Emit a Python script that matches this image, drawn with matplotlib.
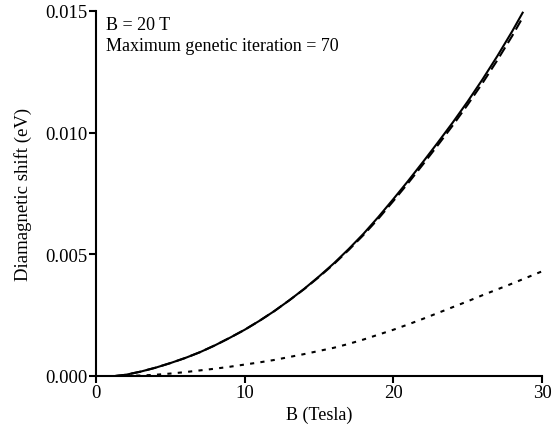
import matplotlib
matplotlib.use("Agg")
import matplotlib.pyplot as plt

plt.rcParams['font.family'] = ['Liberation Serif', 'DejaVu Serif']

# Data
b_solid = [1.3, 2, 3, 4, 5, 6, 7, 8, 9, 10, 11, 12, 13, 14, 15, 16, 17, 18, 19, 20,
           21, 22, 23, 24, 25, 26, 27, 28, 28.7]
shift_solid = [0.0, 0.00005, 0.00018, 0.00034, 0.00053, 0.00074, 0.00098, 0.00126,
               0.00157, 0.00190, 0.00227, 0.00267, 0.00311, 0.00358, 0.00409, 0.00463,
               0.00522, 0.00585, 0.00654, 0.00727, 0.00802, 0.00880, 0.00960, 0.01042,
               0.01128, 0.01219, 0.01315, 0.01417, 0.01493]

b_dashed = [1.3, 2, 3, 4, 5, 6, 7, 8, 9, 10, 11, 12, 13, 14, 15, 16, 17, 18, 19, 20,
            21, 22, 23, 24, 25, 26, 27, 28, 28.7]
shift_dashed = [0.0, 0.00005, 0.00018, 0.00034, 0.00053, 0.00074, 0.00098, 0.00126,
                0.00157, 0.00190, 0.00227, 0.00267, 0.00311, 0.00357, 0.00407, 0.00460,
                0.00518, 0.00580, 0.00647, 0.00719, 0.00793, 0.00870, 0.00949, 0.01030,
                0.01115, 0.01204, 0.01298, 0.01398, 0.01473]

b_dotted = [1.3, 2, 3, 4, 5, 6, 7, 8, 9, 10, 11, 12, 13, 14, 15, 16, 17, 18, 19, 20,
            21, 22, 23, 24, 25, 26, 27, 28, 29, 30]
shift_dotted = [0.0, 0.000005, 0.00002, 0.00005, 0.00010, 0.00016, 0.00023, 0.00030,
                0.00038, 0.00047, 0.00056, 0.00066, 0.00078, 0.00090, 0.00103, 0.00116,
                0.00132, 0.00150, 0.00170, 0.00190, 0.00212, 0.00235, 0.00259, 0.00283,
                0.00307, 0.00332, 0.00356, 0.00380, 0.00405, 0.00430]

x_ticks = [0, 10, 20, 30]
y_ticks = [0.000, 0.005, 0.010, 0.015]
y_tick_labels = ["0.000", "0.005", "0.010", "0.015"]

fig = plt.figure(figsize=(5.56, 4.31), dpi=100)
ax = fig.add_axes([0.1727, 0.1253, 0.8021, 0.8469])

ax.plot(b_solid, shift_solid, color='black', lw=1.5)
ax.plot(b_dashed, shift_dashed, color='black', lw=1.5, linestyle=(0, (5, 2.5)))
ax.plot(b_dotted, shift_dotted, color='black', lw=1.5, linestyle=(0, (2.0, 3.0)))

ax.set_xlim(0, 30)
ax.set_ylim(0, 0.015)
ax.set_xticks(x_ticks)
ax.set_xticklabels([str(t) for t in x_ticks])
ax.set_yticks(y_ticks)
ax.set_yticklabels(y_tick_labels)

for s in ['top', 'right']:
    ax.spines[s].set_visible(False)
for s in ['left', 'bottom']:
    ax.spines[s].set_linewidth(1.5)

ax.tick_params(direction='out', length=5, width=1.5, labelsize=13.5, pad=1)

ax.set_xlabel("B (Tesla)", fontsize=13, labelpad=3)
ax.set_ylabel("Diamagnetic shift (eV)", fontsize=13.5, labelpad=10)

ax.text(0.022, 0.985, "B = 20 T\nMaximum genetic iteration = 70", transform=ax.transAxes,
        fontsize=13, va='top', ha='left', linespacing=1.3)

fig.savefig("out.png", dpi=100)
